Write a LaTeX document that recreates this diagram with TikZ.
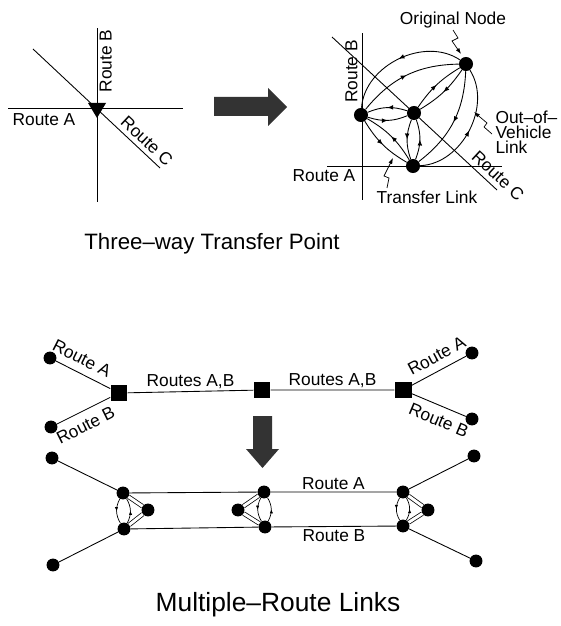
\documentclass[tikz,border=0pt]{standalone}
\usepackage{fontspec}
\setmainfont{Liberation Sans}
\usetikzlibrary{arrows.meta, decorations.markings, positioning}

\tikzset{
  dot/.style={circle, fill, inner sep=0pt, minimum size=11pt},
  bigdot/.style={circle, fill, inner sep=0pt, minimum size=12pt},
  junction/.style={rectangle, fill, inner sep=0pt, minimum size=14.5pt},
  route/.style={line width=0.75pt},
  lbl/.style={font=\fontsize{14.8}{13}\selectfont, inner sep=2pt},
  midarrow/.style={postaction={decorate}, decoration={markings,
      mark=at position 0.5 with {\arrow{Latex[length=#1,width=0.8*#1]}}}},
  midarrow/.default=5pt,
  link/.style={route, midarrow},
  smalllink/.style={line width=0.6pt, midarrow=3.5pt},
  twin/.style={double, double distance=2.5pt, line width=0.65pt},
  pointer/.style={-{Latex[length=5pt,width=3.5pt]}, line width=0.6pt},
  blockarrow/.style={fill=black!80}
}

\begin{document}
\begin{tikzpicture}[x=0.03cm, y=-0.03cm]
  \useasboundingbox (0,0) rectangle (560,626);

  % three-way transfer point, before
  \coordinate (wA) at (8,108);   \coordinate (eA) at (183,108);
  \coordinate (nB) at (97,28);   \coordinate (sB) at (97,202);
  \coordinate (nwC) at (33,49);  \coordinate (seC) at (160,168);
  \coordinate (x0) at (97,108);
  \draw[route] (wA) -- (eA);
  \draw[route] (sB) -- node[lbl, sloped, below, pos=0.81] {Route B} (nB);
  \draw[route] (nwC) -- node[lbl, sloped, above=1.5pt, pos=0.84] {Route C} (seC);
  \node[lbl] (lblA) at (44,120) {Route A};
  \fill ([shift={(-9,-5)}]x0) -- ([shift={(9,-5)}]x0) -- ([shift={(0,10)}]x0) -- cycle;

  \fill[blockarrow] (214,97) -- (268,97) -- (268,88) -- (287,107) -- (268,126)
    -- (268,116) -- (214,116) -- cycle;

  % three-way transfer point, after
  \coordinate (wA2) at (327,166);  \coordinate (eA2) at (502,166);
  \coordinate (nB2) at (362,33);   \coordinate (sB2) at (362,200);
  \coordinate (nwC2) at (332,37);  \coordinate (seC2) at (497,190);
  \draw[route] (wA2) -- (eA2);
  \draw[route] (sB2) -- node[lbl, sloped, above=1.5pt, pos=0.77] {Route B} (nB2);
  \draw[route] (nwC2) -- node[lbl, sloped, above=2pt, pos=0.96] {Route C} (seC2);
  \node[lbl] (lblA2) at (324,176) {Route A};

  \node[bigdot] (orig) at (466,64)  {};
  \node[bigdot] (tB)   at (361,115) {};
  \node[bigdot] (tC)   at (414,113) {};
  \node[bigdot] (tA)   at (413,166) {};

  \path (tC) edge[link, bend right=20] (tB)
        (tB) edge[link, bend right=20] (tC)
        (tC) edge[link, bend left=12] (orig)
        (orig) edge[link, bend left=12] (tC)
        (tC) edge[link, bend right=20] (tA)
        (tA) edge[link, bend right=20] (tC)
        (tB) edge[link, bend right=14] (tA)
        (tA) edge[link, bend right=14] (tB)
        (orig) edge[link, bend right=60] (tB)
        (tB) edge[link, bend left=25] (orig)
        (tA) edge[link, bend right=60] (orig)
        (orig) edge[link, bend left=25] (tA);

  \node[lbl] (lblOrig) at (453,20) {Original Node};
  \node[lbl, align=left, anchor=west] (lblOut) at (493,132) {Out--of--\\Vehicle\\Link};
  \node[lbl] (lblTr) at (427,197) {Transfer Link};
  \coordinate (onp) at (453,30);  \coordinate (onq) at (461,54);
  \coordinate (ovp) at (492,134); \coordinate (ovq) at (474,112);
  \coordinate (tlp) at (387,188); \coordinate (tlq) at (393,158);
  \draw[pointer] (onp) -- ++(5,8) -- ++(-6,3) -- (onq);
  \draw[pointer] (ovp) -- ++(-8,-7) -- ++(3,-4) -- (ovq);
  \draw[pointer] (tlp) -- ++(2,-10) -- ++(-5,-2) -- (tlq);

  \node[font=\fontsize{19}{21}\selectfont] (title1) at (212,244) {Three--way Transfer Point};

  % multiple-route links, before
  \node[dot] (ua) at (50,358) {};
  \node[dot] (ub) at (51,427) {};
  \node[junction] (jl) at (119,393) {};
  \node[junction] (jm) at (262,390) {};
  \node[junction] (jr) at (403,390) {};
  \node[dot] (va) at (472,353) {};
  \node[dot] (vb) at (472,419) {};
  \draw[route] (ua) -- node[lbl, sloped, above=4.5pt, pos=0.36] {Route A} (jl);
  \draw[route] (ub) -- node[lbl, sloped, below=4.5pt, pos=0.42] {Route B} (jl);
  \draw[route] (jl) -- node[lbl, above] {Routes A,B} (jm)
                    -- node[lbl, above] {Routes A,B} (jr);
  \draw[route] (jr) -- node[lbl, sloped, above=4.5pt, pos=0.58] {Route A} (va);
  \draw[route] (jr) -- node[lbl, sloped, below=4.5pt, pos=0.6] {Route B} (vb);

  \fill[blockarrow] (253,416) -- (272,416) -- (272,449) -- (279,449) -- (262.5,468)
    -- (246,449) -- (253,449) -- cycle;

  % multiple-route links, after
  \node[dot] (pa) at (52,458) {};
  \node[dot] (pb) at (53,565) {};
  \node[dot] (qa) at (474,456) {};
  \node[dot] (qb) at (476,561) {};
  \node[dot] (lt) at (123,493) {};
  \node[dot] (lb) at (124,529) {};
  \node[dot] (ls) at (148,510) {};
  \node[dot] (mt) at (264,492) {};
  \node[dot] (mb) at (265,527) {};
  \node[dot] (ms) at (238,510) {};
  \node[dot] (rt) at (403,492) {};
  \node[dot] (rb) at (403,526) {};
  \node[dot] (rs) at (428,510) {};

  \draw[route] (pa) -- (lt);
  \draw[route] (pb) -- (lb);
  \draw[route] (lt) -- (mt) -- node[lbl, above] {Route A} (rt);
  \draw[route] (lb) -- (mb) -- node[lbl, below] {Route B} (rb);
  \draw[route] (rt) -- (qa);
  \draw[route] (rb) -- (qb);

  \path (lt) edge[smalllink, bend right=30] (lb)
        (lb) edge[smalllink, bend right=30] (lt)
        (lt) edge[twin] (ls)
        (lb) edge[twin] (ls)
        (mt) edge[smalllink, bend right=30] (mb)
        (mb) edge[smalllink, bend right=30] (mt)
        (mt) edge[twin] (ms)
        (mb) edge[twin] (ms)
        (rt) edge[smalllink, bend right=30] (rb)
        (rb) edge[smalllink, bend right=30] (rt)
        (rt) edge[twin] (rs)
        (rb) edge[twin] (rs);

  \node[font=\fontsize{22.5}{24}\selectfont] (title2) at (278,605) {Multiple--Route Links};
\end{tikzpicture}
\end{document}
